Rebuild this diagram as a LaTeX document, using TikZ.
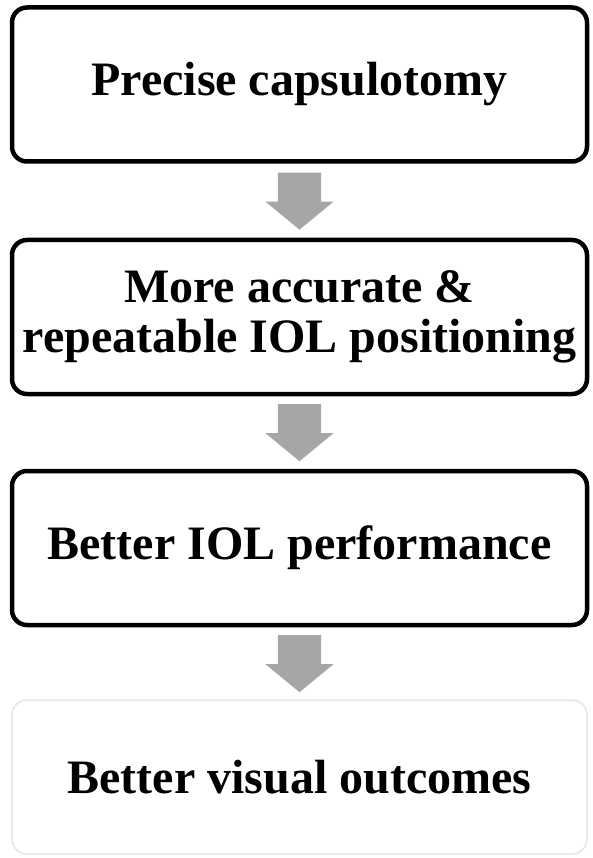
\documentclass[tikz,border=0pt]{standalone}
\usepackage{fontspec}
\setmainfont{Liberation Serif}
\usepackage{tikz}
\usetikzlibrary{shapes,arrows,positioning,calc}

\begin{document}
\begin{tikzpicture}[x=1pt, y=1pt, node distance=77pt,
    flowbox/.style={draw, rectangle, rounded corners=15pt, line width=4.5pt, minimum width=575pt, minimum height=154pt, inner sep=0pt, outer sep=0pt, align=center, font=\fontsize{48}{50}\selectfont\bfseries},
    downarrow/.style={single arrow, shape border rotate=270, fill=black!35, draw=none, inner xsep=21.5pt, inner ysep=0pt, minimum height=57pt, minimum width=68pt, single arrow head extend=12.5pt, single arrow tip angle=101, anchor=tail}]
    \useasboundingbox (0,0) rectangle (592,-858);
    % Nodes
    \node[flowbox] (capsule) at (299.5,-84.5) {Precise capsulotomy};
    \node[flowbox, below=78.5pt of capsule] (position) {More accurate \&\\repeatable IOL positioning};
    \node[flowbox, below=of position] (perform) {Better IOL performance};
    \node[flowbox, below=75pt of perform, draw=black!10, line width=1.5pt] (visual) {Better visual outcomes};

    % Arrows
    \node[downarrow] (arrowA) at ($(capsule.south)+(0,-11)$) {};
    \node[downarrow] (arrowB) at ($(position.south)+(0,-10)$) {};
    \node[downarrow] (arrowC) at ($(perform.south)+(0,-10)$) {};
\end{tikzpicture}
\end{document}
